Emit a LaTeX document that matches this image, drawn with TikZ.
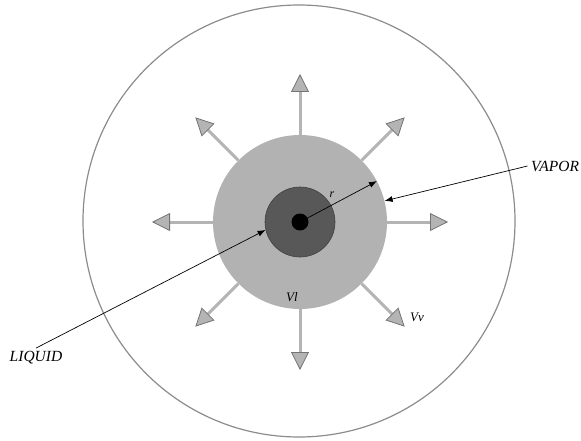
\documentclass[tikz,border=0pt]{standalone}
\usepackage{fontspec}
\setmainfont{Liberation Serif}
\usepackage{tikz}
\usetikzlibrary{arrows.meta,calc}
\definecolor{shellgray}{RGB}{140,140,140}
\definecolor{vaporgray}{RGB}{178,178,178}
\definecolor{dropgray}{RGB}{88,88,88}
\definecolor{flowgray}{RGB}{180,180,180}
\definecolor{flowedge}{RGB}{115,115,115}

\begin{document}
\begin{tikzpicture}[x=1pt,y=-1pt,
    every node/.style={font=\itshape},
    flow/.style={draw=flowgray,line width=3pt,
      -{Triangle[length=18pt,width=18pt,line width=0.8pt,fill=flowgray,color=flowedge]}},
    pointer/.style={draw=black,line width=0.7pt,-{Latex[length=8pt,width=6pt]}}]
  \useasboundingbox (0,0) rectangle (581,441);
  % droplet and its vapor shell
  \node[circle,draw=shellgray,line width=1.2pt,minimum size=432pt,inner sep=0pt] (shell) at (299,221) {};
  \node[circle,fill=vaporgray,minimum size=174pt,inner sep=0pt] (vapor) at (300,222) {};
  \node[circle,fill=dropgray,draw=black!75,line width=0.6pt,minimum size=70pt,inner sep=0pt] (drop) at (300,222) {};
  \node[circle,fill=black,minimum size=17pt,inner sep=0pt] (core) at (300,222) {};
  % outward vapor flow
  \foreach \a in {0,45,...,315}{
    \coordinate (tip\a) at ($(vapor.center)!148pt!(vapor.\a)$);
    \draw[flow] (vapor.\a) -- (tip\a);
  }
  \node[font=\itshape\fontsize{13}{13}\selectfont] (vl) at (292,297) {Vl};
  \node[font=\itshape\fontsize{13}{13}\selectfont] (vv) at (417,317) {Vv};
  % labels
  \node[font=\itshape\fontsize{15.5}{15.5}\selectfont] (liq) at (36,358) {LIQUID};
  \node[font=\itshape\fontsize{15.5}{15.5}\selectfont] (vap) at (555,166) {VAPOR};
  \node[font=\itshape\fontsize{12}{12}\selectfont] (rlab) at (332,195) {r};
  \draw[pointer] (liq.north) -- (drop.193);
  \draw[pointer] (vap.west) -- (vapor.14);
  \draw[pointer] (core.center) -- (vapor.28);
\end{tikzpicture}
\end{document}
